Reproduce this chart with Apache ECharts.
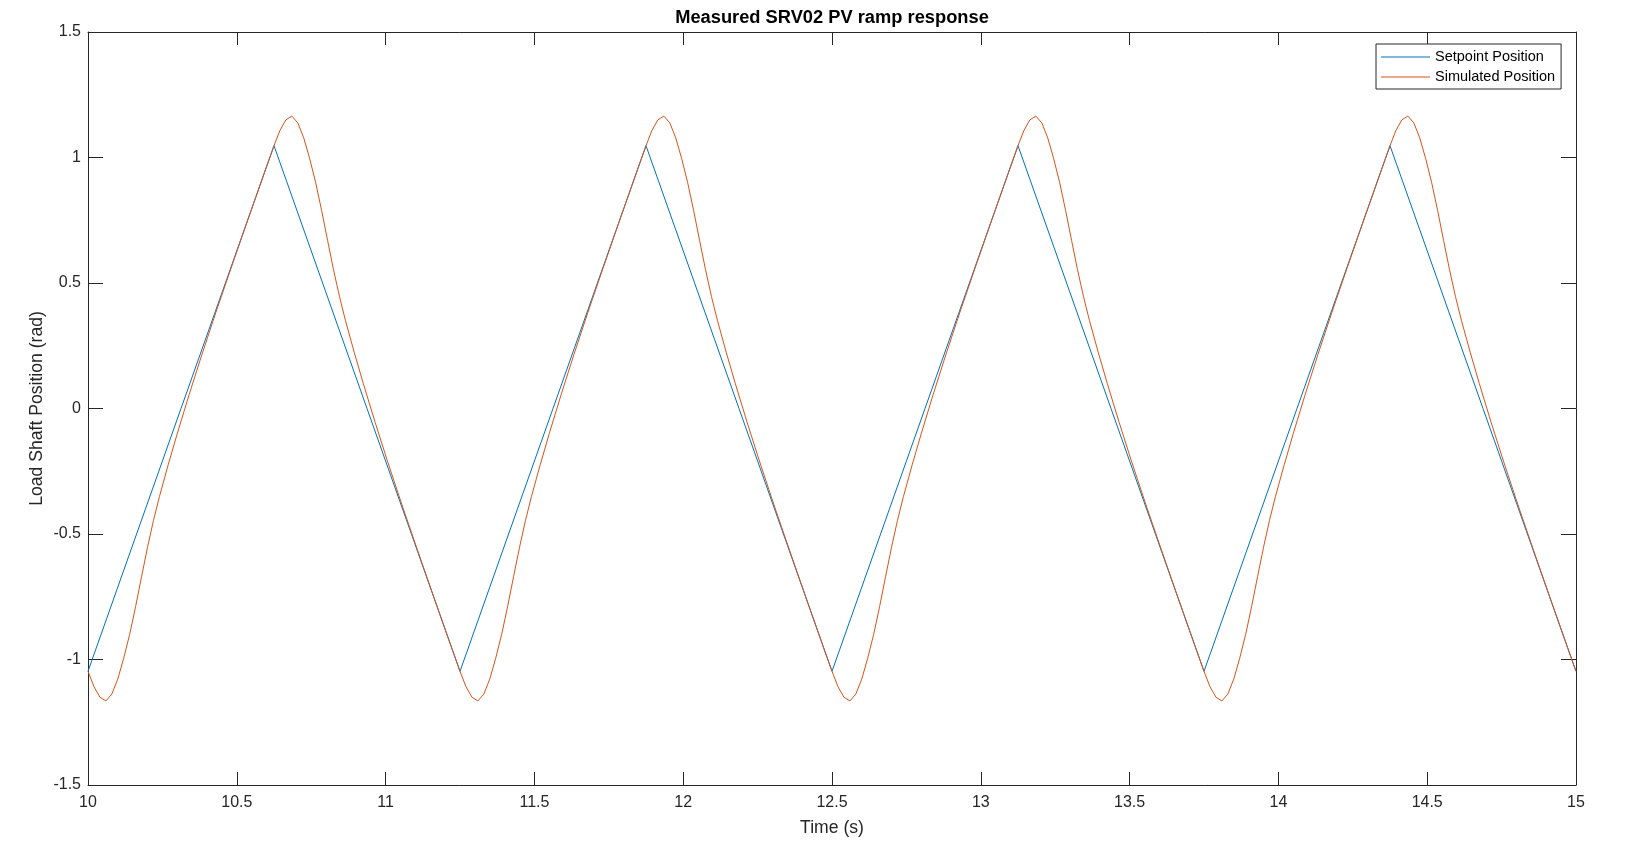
<!DOCTYPE html>
<html>
<head>
<meta charset="utf-8">
<script src="https://cdn.jsdelivr.net/npm/echarts@6/dist/echarts.min.js"></script>
<style>
html,body{margin:0;padding:0;background:#fff;}
#chart{width:1631px;height:848px;}
</style>
</head>
<body>
<div id="chart"></div>
<script>
// ---- data ----
const chartTitle = 'Measured SRV02 PV ramp response';
const xAxisLabel = 'Time (s)';
const yAxisLabel = 'Load Shaft Position (rad)';
const seriesNames = ['Setpoint Position', 'Simulated Position'];

const setpointTime  = [10, 10.625, 11.25, 11.875, 12.5, 13.125, 13.75, 14.375, 15];
const setpointValue = [-1.047, 1.047, -1.047, 1.047, -1.047, 1.047, -1.047, 1.047, -1.047];

const simTime = [
  10, 10.02, 10.04, 10.06, 10.08, 10.10, 10.12, 10.14, 10.16, 10.18, 10.20, 10.22, 10.24, 10.27, 10.30, 10.34, 10.38, 10.43, 10.48, 10.54, 10.60,
  10.625, 10.645, 10.665, 10.685, 10.705, 10.725, 10.745, 10.765, 10.785, 10.805, 10.825, 10.845, 10.865, 10.895, 10.925, 10.965, 11.005, 11.055, 11.105, 11.165, 11.225,
  11.25, 11.27, 11.29, 11.31, 11.33, 11.35, 11.37, 11.39, 11.41, 11.43, 11.45, 11.47, 11.49, 11.52, 11.55, 11.59, 11.63, 11.68, 11.73, 11.79, 11.85,
  11.875, 11.895, 11.915, 11.935, 11.955, 11.975, 11.995, 12.015, 12.035, 12.055, 12.075, 12.095, 12.115, 12.145, 12.175, 12.215, 12.255, 12.305, 12.355, 12.415, 12.475,
  12.5, 12.52, 12.54, 12.56, 12.58, 12.60, 12.62, 12.64, 12.66, 12.68, 12.70, 12.72, 12.74, 12.77, 12.80, 12.84, 12.88, 12.93, 12.98, 13.04, 13.10,
  13.125, 13.145, 13.165, 13.185, 13.205, 13.225, 13.245, 13.265, 13.285, 13.305, 13.325, 13.345, 13.365, 13.395, 13.425, 13.465, 13.505, 13.555, 13.605, 13.665, 13.725,
  13.75, 13.77, 13.79, 13.81, 13.83, 13.85, 13.87, 13.89, 13.91, 13.93, 13.95, 13.97, 13.99, 14.02, 14.05, 14.09, 14.13, 14.18, 14.23, 14.29, 14.35,
  14.375, 14.395, 14.415, 14.435, 14.455, 14.475, 14.495, 14.515, 14.535, 14.555, 14.575, 14.595, 14.615, 14.645, 14.675, 14.715, 14.755, 14.805, 14.855, 14.915, 14.975,
  15
];
const simValue = [
  -1.047, -1.108, -1.150, -1.165, -1.138, -1.078, -0.995, -0.900, -0.789, -0.670, -0.553, -0.446, -0.351, -0.222, -0.100, 0.056, 0.205, 0.384, 0.557, 0.762, 0.964,
  1.047, 1.108, 1.150, 1.165, 1.138, 1.078, 0.995, 0.900, 0.789, 0.670, 0.553, 0.446, 0.351, 0.222, 0.100, -0.056, -0.205, -0.384, -0.557, -0.762, -0.964,
  -1.047, -1.108, -1.150, -1.165, -1.138, -1.078, -0.995, -0.900, -0.789, -0.670, -0.553, -0.446, -0.351, -0.222, -0.100, 0.056, 0.205, 0.384, 0.557, 0.762, 0.964,
  1.047, 1.108, 1.150, 1.165, 1.138, 1.078, 0.995, 0.900, 0.789, 0.670, 0.553, 0.446, 0.351, 0.222, 0.100, -0.056, -0.205, -0.384, -0.557, -0.762, -0.964,
  -1.047, -1.108, -1.150, -1.165, -1.138, -1.078, -0.995, -0.900, -0.789, -0.670, -0.553, -0.446, -0.351, -0.222, -0.100, 0.056, 0.205, 0.384, 0.557, 0.762, 0.964,
  1.047, 1.108, 1.150, 1.165, 1.138, 1.078, 0.995, 0.900, 0.789, 0.670, 0.553, 0.446, 0.351, 0.222, 0.100, -0.056, -0.205, -0.384, -0.557, -0.762, -0.964,
  -1.047, -1.108, -1.150, -1.165, -1.138, -1.078, -0.995, -0.900, -0.789, -0.670, -0.553, -0.446, -0.351, -0.222, -0.100, 0.056, 0.205, 0.384, 0.557, 0.762, 0.964,
  1.047, 1.108, 1.150, 1.165, 1.138, 1.078, 0.995, 0.900, 0.789, 0.670, 0.553, 0.446, 0.351, 0.222, 0.100, -0.056, -0.205, -0.384, -0.557, -0.762, -0.964,
  -1.047
];

const xMin = 10, xMax = 15, xStep = 0.5;
const yMin = -1.5, yMax = 1.5, yStep = 0.5;

// ---- chart ----
const FONT = '"Liberation Sans", Arial, Helvetica, sans-serif';
const AX = '#262626';
const chart = echarts.init(document.getElementById('chart'), null, {renderer: 'canvas'});

const zip = (xs, ys) => xs.map((x, i) => [x, ys[i]]);

const baseAxisLine = {show: true, onZero: false, lineStyle: {color: AX, width: 1}};

chart.setOption({
  animation: false,
  backgroundColor: '#ffffff',
  textStyle: {fontFamily: FONT},
  grid: {left: 88, right: 55, top: 32, bottom: 63, containLabel: false},
  legend: {
    orient: 'vertical',
    left: 1376, top: 44,
    padding: [5, 6, 4, 5],
    itemGap: 4,
    itemWidth: 49,
    itemHeight: 1.2,
    icon: 'rect',
    backgroundColor: '#ffffff',
    borderColor: AX, borderWidth: 1, borderRadius: 0,
    textStyle: {fontFamily: FONT, fontSize: 14.5, color: '#000', lineHeight: 16},
    data: seriesNames
  },
  xAxis: [{
    type: 'value', position: 'bottom',
    min: xMin, max: xMax, interval: xStep,
    name: xAxisLabel, nameLocation: 'middle', nameGap: 34, nameMoveOverlap: false,
    nameTextStyle: {fontFamily: FONT, fontSize: 17.6, color: AX},
    axisLine: baseAxisLine,
    axisTick: {show: true, inside: true, length: 13, lineStyle: {color: AX}},
    axisLabel: {show: true, margin: 10, fontFamily: FONT, fontSize: 16, color: AX,
      showMinLabel: true, showMaxLabel: true},
    splitLine: {show: false}
  }, {
    type: 'value', position: 'top',
    min: xMin, max: xMax, interval: xStep,
    name: chartTitle, nameLocation: 'middle', nameGap: 5, nameMoveOverlap: false,
    nameTextStyle: {fontFamily: FONT, fontSize: 18.3, fontWeight: 'bold', color: '#000'},
    axisLine: baseAxisLine,
    axisTick: {show: true, inside: true, length: 13, lineStyle: {color: AX}},
    axisLabel: {show: false},
    splitLine: {show: false}
  }],
  yAxis: [{
    type: 'value', position: 'left',
    min: yMin, max: yMax, interval: yStep,
    name: yAxisLabel, nameLocation: 'middle', nameGap: 42, nameMoveOverlap: false,
    nameTextStyle: {fontFamily: FONT, fontSize: 17.6, color: AX},
    axisLine: baseAxisLine,
    axisTick: {show: true, inside: true, length: 15, lineStyle: {color: AX}},
    axisLabel: {show: true, margin: 7, fontFamily: FONT, fontSize: 16, color: AX,
      showMinLabel: true, showMaxLabel: true},
    splitLine: {show: false}
  }, {
    type: 'value', position: 'right',
    min: yMin, max: yMax, interval: yStep,
    axisLine: baseAxisLine,
    axisTick: {show: true, inside: true, length: 15, lineStyle: {color: AX}},
    axisLabel: {show: false},
    splitLine: {show: false}
  }],
  series: [{
    name: seriesNames[0],
    type: 'line',
    xAxisIndex: 0, yAxisIndex: 0,
    data: zip(setpointTime, setpointValue),
    showSymbol: false, symbol: 'none',
    lineStyle: {color: '#0072BD', width: 1},
    itemStyle: {color: '#0072BD'},
    emphasis: {disabled: true}
  }, {
    name: seriesNames[1],
    type: 'line',
    xAxisIndex: 0, yAxisIndex: 0,
    data: zip(simTime, simValue),
    showSymbol: false, symbol: 'none',
    smooth: false,
    lineStyle: {color: '#D95319', width: 1},
    itemStyle: {color: '#D95319'},
    emphasis: {disabled: true}
  }]
});
</script>
</body>
</html>
